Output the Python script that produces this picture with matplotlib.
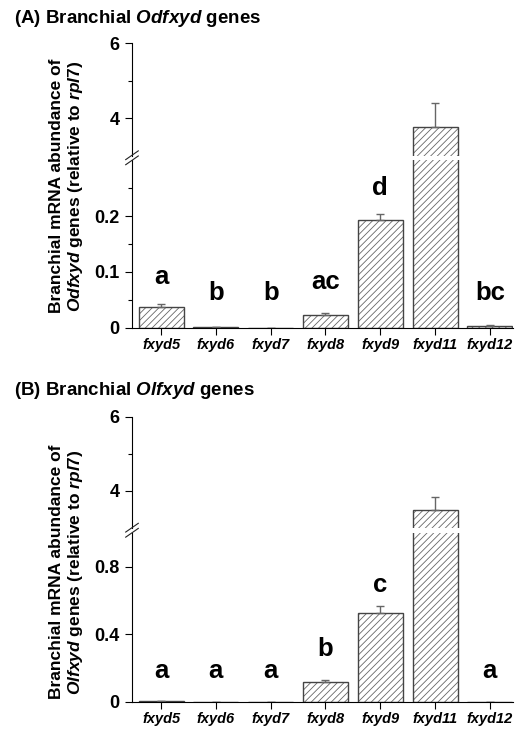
import numpy as np
import matplotlib
matplotlib.use("Agg")
import matplotlib.pyplot as plt

plt.rcParams['font.family'] = ['Liberation Sans', 'DejaVu Sans']
plt.rcParams['font.weight'] = 'bold'
plt.rcParams['mathtext.fontset'] = 'custom'
plt.rcParams['mathtext.it'] = 'Liberation Sans:italic:bold'
plt.rcParams['mathtext.rm'] = 'Liberation Sans:bold'
plt.rcParams['hatch.linewidth'] = 0.6
plt.rcParams['hatch.color'] = '#666666'

genes = ['fxyd5', 'fxyd6', 'fxyd7', 'fxyd8', 'fxyd9', 'fxyd11', 'fxyd12']

# panel A: Odfxyd
od_mean = [0.038, 0.001, 0.0, 0.023, 0.193, 3.76, 0.004]
od_err = [0.004, 0.0003, 0.0, 0.003, 0.011, 0.64, 0.001]
od_letters = ['a', 'b', 'b', 'ac', 'd', '', 'bc']
od_letter_y = [0.091, 0.062, 0.062, 0.083, 0.25, 0, 0.062]

# panel B: Olfxyd
ol_mean = [0.005, 0.0, 0.0, 0.118, 0.527, 3.47, 0.0]
ol_err = [0.001, 0.0, 0.0, 0.008, 0.042, 0.35, 0.0]
ol_letters = ['a', 'a', 'a', 'b', 'c', '', 'a']
ol_letter_y = [0.18, 0.18, 0.18, 0.31, 0.69, 0, 0.18]

fig = plt.figure(figsize=(5.24, 7.29), dpi=100)
x = np.arange(len(genes))


def draw_bars(ax, mean, err):
    ax.bar(x, mean, width=0.82, color='white', edgecolor='#666666', hatch='/////', linewidth=0)
    ax.bar(x, mean, width=0.82, color='none', edgecolor='#444444', linewidth=1.0)
    ax.errorbar(x, mean, yerr=[np.zeros(len(x)), err], fmt='none', ecolor='#666666',
                elinewidth=1.0, capsize=3, capthick=1.0)
    ax.set_xlim(-0.53, 6.42)
    for s in ['top', 'right']:
        ax.spines[s].set_visible(False)
    ax.tick_params(axis='y', direction='out', length=5, width=0.8, labelsize=13, pad=4)
    ax.tick_params(axis='y', which='minor', direction='out', length=3, width=0.8)


def panel(title, title_y, ylabel, ylabel_y, top_rect, low_rect, mean, err,
          low_top, low_ticks, low_minor, letters, letter_y):
    ax_t = fig.add_axes(top_rect)
    ax_b = fig.add_axes(low_rect)
    draw_bars(ax_t, mean, err)
    draw_bars(ax_b, mean, err)
    ax_t.set_ylim(3.0, 6.0)
    ax_t.set_yticks([4, 6])
    ax_t.set_yticks([5], minor=True)
    ax_t.spines['bottom'].set_visible(False)
    ax_t.tick_params(axis='x', bottom=False, labelbottom=False)
    ax_b.set_ylim(0, low_top)
    ax_b.set_yticks(low_ticks)
    ax_b.set_yticklabels(['0' if v == 0 else ('%g' % v) for v in low_ticks])
    ax_b.set_yticks(low_minor, minor=True)
    ax_b.set_xticks(x)
    ax_b.set_xticklabels(genes, fontstyle='italic', fontsize=10.5)
    ax_b.tick_params(axis='x', direction='out', length=5, width=0.8, pad=2.5)
    for i, t in enumerate(letters):
        if t:
            ax_b.text(x[i], letter_y[i], t, ha='center', va='center', fontsize=18.5)
    # break marks on the y axis
    xa = top_rect[0]
    yb = (top_rect[1] + low_rect[1] + low_rect[3]) / 2
    dx, dy = 0.012, 0.006
    for off in (-0.0035, 0.0035):
        fig.add_artist(plt.Line2D([xa - dx, xa + dx], [yb + off - dy, yb + off + dy],
                                  transform=fig.transFigure, color='#222222', lw=0.8))
    fig.text(0.027, title_y, title, fontsize=13.5, va='center', ha='left')
    fig.text(0.128, ylabel_y, ylabel, fontsize=12.5, rotation=90, ha='center',
             va='center', linespacing=1.1, multialignment='center')


panel(r'(A) Branchial $\mathit{Odfxyd}$ genes', 0.974,
      'Branchial mRNA abundance of\n' + r'$\mathit{Odfxyd}$ genes (relative to $\mathit{rpl7}$)',
      0.745,
      [0.2519, 0.7866, 0.727, 0.1544], [0.2519, 0.5501, 0.727, 0.2304],
      od_mean, od_err, 0.3, [0, 0.1, 0.2], [0.05, 0.15, 0.25], od_letters, od_letter_y)

panel(r'(B) Branchial $\mathit{Olfxyd}$ genes', 0.465,
      'Branchial mRNA abundance of\n' + r'$\mathit{Olfxyd}$ genes (relative to $\mathit{rpl7}$)',
      0.215,
      [0.2519, 0.2764, 0.727, 0.1516], [0.2519, 0.0374, 0.727, 0.2315],
      ol_mean, ol_err, 1.0, [0, 0.4, 0.8], [], ol_letters, ol_letter_y)

fig.savefig('out.png', dpi=100)
